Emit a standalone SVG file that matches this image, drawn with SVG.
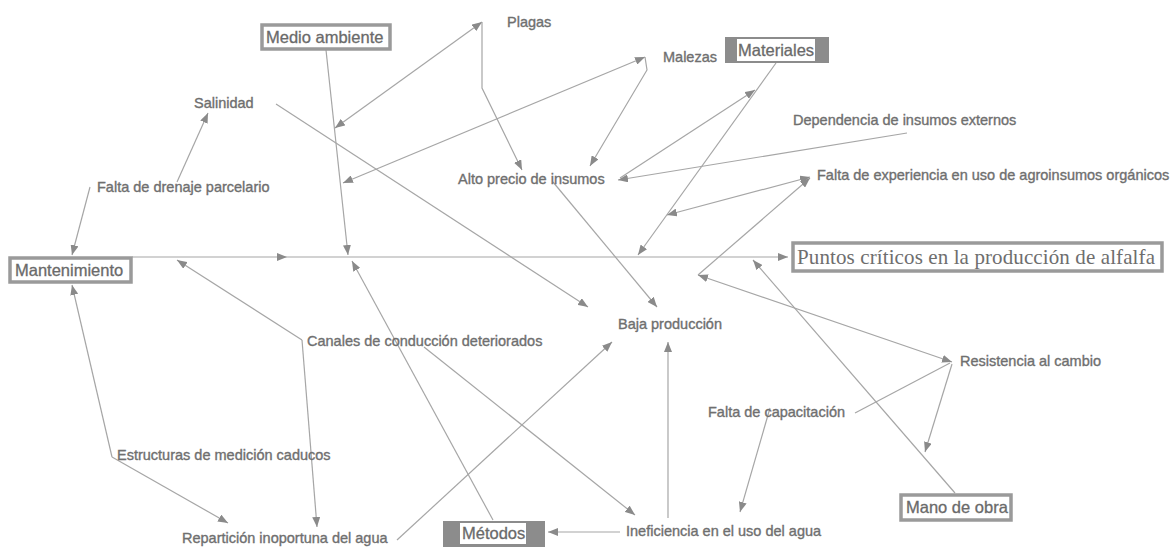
<svg xmlns="http://www.w3.org/2000/svg" width="1175" height="549" viewBox="0 0 1175 549">
<defs>
<marker id="arr" viewBox="0 0 10 8" refX="10" refY="4" markerWidth="10" markerHeight="8" markerUnits="userSpaceOnUse" orient="auto-start-reverse">
<path d="M0,0 L10,4 L0,8 Z" fill="#8a8a8a"/>
</marker>
</defs>
<style>
.c{fill:none;stroke:#a6a6a6;stroke-width:1.2}
.t{font-family:"Liberation Sans",Arial,sans-serif;font-size:14.5px;fill:#6f6f6f;stroke:#6f6f6f;stroke-width:0.35}
.b{font-family:"Liberation Sans",Arial,sans-serif;font-size:16.5px;fill:#6a6a6a;stroke:#6a6a6a;stroke-width:0.3}
.bx{fill:#fff;stroke:#9a9a9a;stroke-width:3.5}
.fb{fill:#8c8c8c}
</style>
<rect width="1175" height="549" fill="#fff"/>
<g id="connectors">
<path class="c" d="M132,257 L287,257 L788,257" marker-mid="url(#arr)" marker-end="url(#arr)"/>
<path class="c" d="M326,50 L348,255" marker-end="url(#arr)"/>
<path class="c" d="M90,187 L72,255" marker-end="url(#arr)"/>
<path class="c" d="M177,182 L208,113" marker-end="url(#arr)"/>
<path class="c" d="M276,104 L588,307" marker-end="url(#arr)"/>
<path class="c" d="M335,128 L482,22" marker-start="url(#arr)" marker-end="url(#arr)"/>
<path class="c" d="M482,22 L482,88 L522,170" marker-end="url(#arr)"/>
<path class="c" d="M343,183 L645,57" marker-start="url(#arr)" marker-end="url(#arr)"/>
<path class="c" d="M645,57 L647,70 L590,166" marker-end="url(#arr)"/>
<path class="c" d="M553,182 L657,307" marker-end="url(#arr)"/>
<path class="c" d="M776,63 L638,255" marker-end="url(#arr)"/>
<path class="c" d="M620,178 L755,90" marker-end="url(#arr)"/>
<path class="c" d="M907,133 L618,180" marker-end="url(#arr)"/>
<path class="c" d="M667,215 L810,177" marker-start="url(#arr)" marker-end="url(#arr)"/>
<path class="c" d="M698,275 L810,178" marker-end="url(#arr)"/>
<path class="c" d="M698,275 L952,362" marker-start="url(#arr)" marker-end="url(#arr)"/>
<path class="c" d="M855,413 L950,363"/>
<path class="c" d="M952,364 L925,452" marker-end="url(#arr)"/>
<path class="c" d="M955,493 L753,260" marker-end="url(#arr)"/>
<path class="c" d="M770,408 L740,512" marker-end="url(#arr)"/>
<path class="c" d="M620,532 L548,532" marker-end="url(#arr)"/>
<path class="c" d="M668,518 L668,342" marker-end="url(#arr)"/>
<path class="c" d="M424,347 L635,515" marker-end="url(#arr)"/>
<path class="c" d="M397,540 L612,342" marker-end="url(#arr)"/>
<path class="c" d="M493,520 L352,261" marker-end="url(#arr)"/>
<path class="c" d="M302,340 L177,260" marker-end="url(#arr)"/>
<path class="c" d="M302,340 L317,527" marker-end="url(#arr)"/>
<path class="c" d="M112,457 L72,285" marker-end="url(#arr)"/>
<path class="c" d="M112,457 L228,523" marker-end="url(#arr)"/>
</g>
<g id="puntos">
<rect class="bx" x="793" y="243" width="369" height="28"/>
<text x="797" y="264" textLength="358" style="font-family:'Liberation Serif','Times New Roman',serif;font-size:21px;fill:#6e6e6e">Puntos críticos en la producción de alfalfa</text>
</g>
<g id="mantenimiento">
<rect class="bx" x="10" y="258" width="121" height="24"/>
<text class="b" x="15" y="276">Mantenimiento</text>
</g>
<g id="medio-ambiente">
<rect class="bx" x="262" y="25" width="128" height="24"/>
<text class="b" x="266" y="43">Medio ambiente</text>
</g>
<g id="materiales">
<rect class="fb" x="725" y="37" width="104" height="26"/>
<rect fill="#fff" x="737" y="39" width="78" height="22"/>
<text class="b" x="738" y="56">Materiales</text>
</g>
<g id="metodos">
<rect class="fb" x="443" y="521" width="102" height="26"/>
<rect fill="#fff" x="460" y="523" width="66" height="21"/>
<text class="b" x="462" y="539">Métodos</text>
</g>
<g id="mano-de-obra">
<rect class="bx" x="901" y="495" width="110" height="25"/>
<text class="b" x="906" y="513">Mano de obra</text>
</g>
<g id="salinidad"><text class="t" x="194" y="108">Salinidad</text></g>
<g id="plagas"><text class="t" x="507" y="27">Plagas</text></g>
<g id="malezas"><text class="t" x="663" y="62">Malezas</text></g>
<g id="dependencia"><text class="t" x="793" y="125">Dependencia de insumos externos</text></g>
<g id="falta-experiencia"><text class="t" x="817" y="180">Falta de experiencia en uso de agroinsumos orgánicos</text></g>
<g id="alto-precio"><text class="t" x="458" y="184">Alto precio de insumos</text></g>
<g id="falta-drenaje"><text class="t" x="97" y="192">Falta de drenaje parcelario</text></g>
<g id="canales"><text class="t" x="307" y="346">Canales de conducción deteriorados</text></g>
<g id="baja-produccion"><text class="t" x="618" y="329">Baja producción</text></g>
<g id="resistencia"><text class="t" x="960" y="366">Resistencia al cambio</text></g>
<g id="falta-capacitacion"><text class="t" x="708" y="417">Falta de capacitación</text></g>
<g id="estructuras"><text class="t" x="117" y="460">Estructuras de medición caducos</text></g>
<g id="reparticion"><text class="t" x="182" y="543">Repartición inoportuna del agua</text></g>
<g id="ineficiencia"><text class="t" x="626" y="536">Ineficiencia en el uso del agua</text></g>
</svg>
